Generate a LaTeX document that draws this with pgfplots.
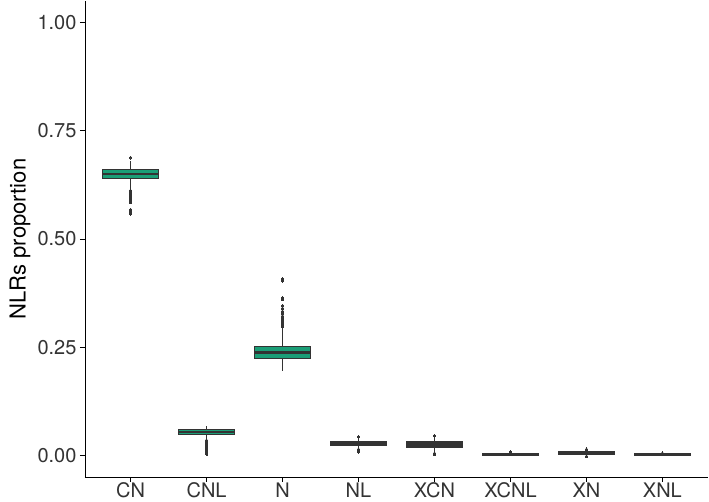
\documentclass[border=0pt]{standalone}
\usepackage{pgfplots}
\pgfplotsset{compat=1.18}
\usepgfplotslibrary{statistics}
\usepackage{fontspec}
\setmainfont{TeX Gyre Heros}

\definecolor{boxfill}{HTML}{1B9E77}
\definecolor{edge}{HTML}{333333}

\pgfplotsset{
  boxplot/draw direction=y,
  boxplot/every box/.style={draw=edge, fill=boxfill, line width=1.3pt},
  boxplot/every median/.style={draw=edge, line width=2.8pt},
  boxplot/every whisker/.style={draw=edge, line width=1.2pt},
  nlr/.style={draw=edge, line width=1.2pt, mark=*, mark size=1.4pt, mark options={draw=edge, fill=edge, line width=0pt}},
}

\begin{document}
\begin{tikzpicture}
\begin{axis}[
    scale only axis,
    width=623pt, height=476pt,
    xmin=0.4, xmax=8.6,
    ymin=-0.05, ymax=1.05,
    axis x line*=bottom, axis y line*=left,
    axis line style={-, line width=0.8pt, black},
    xtick={1,...,8},
    xticklabels={CN,CNL,N,NL,XCN,XCNL,XN,XNL},
    ytick={0,0.25,0.5,0.75,1},
    yticklabel style={/pgf/number format/.cd, fixed, fixed zerofill, precision=2},
    /pgf/number format/assume math mode=true,
    tick align=outside,
    major tick length=5pt,
    tick style={line width=0.8pt, black},
    ticklabel style={font=\fontsize{20}{24}\selectfont, text=black!80},
    xticklabel style={yshift=2.5pt},
    ylabel={NLRs proportion},
    ylabel style={font=\fontsize{22}{26}\selectfont, at={(axis description cs:-0.1043,0.5)}, anchor=center},
    clip=false,
]
% CN
\addplot[nlr, boxplot prepared={draw position=1, box extend=0.74, whisker extend=0,
    median=0.650, lower quartile=0.640, upper quartile=0.660,
    lower whisker=0.615, upper whisker=0.680}]
  coordinates {(0,0.688)(0,0.612)(0,0.610)(0,0.608)(0,0.606)(0,0.604)(0,0.602)(0,0.600)
    (0,0.598)(0,0.596)(0,0.594)(0,0.592)(0,0.590)(0,0.587)(0,0.585)(0,0.568)(0,0.563)(0,0.558)};
% CNL
\addplot[nlr, boxplot prepared={draw position=2, box extend=0.74, whisker extend=0,
    median=0.054, lower quartile=0.048, upper quartile=0.060,
    lower whisker=0.038, upper whisker=0.069}]
  coordinates {(0,0.035)(0,0.031)(0,0.028)(0,0.025)(0,0.022)(0,0.018)(0,0.014)(0,0.010)(0,0.006)(0,0.003)};
% N
\addplot[nlr, boxplot prepared={draw position=3, box extend=0.74, whisker extend=0,
    median=0.237, lower quartile=0.224, upper quartile=0.252,
    lower whisker=0.195, upper whisker=0.294}]
  coordinates {(0,0.297)(0,0.300)(0,0.303)(0,0.306)(0,0.309)(0,0.312)(0,0.315)(0,0.318)(0,0.322)
    (0,0.327)(0,0.333)(0,0.340)(0,0.346)(0,0.360)(0,0.364)(0,0.403)(0,0.408)};
% NL
\addplot[nlr, boxplot prepared={draw position=4, box extend=0.74, whisker extend=0,
    median=0.028, lower quartile=0.024, upper quartile=0.031,
    lower whisker=0.018, upper whisker=0.038}]
  coordinates {(0,0.043)(0,0.014)(0,0.011)(0,0.008)};
% XCN
\addplot[nlr, boxplot prepared={draw position=5, box extend=0.74, whisker extend=0,
    median=0.025, lower quartile=0.019, upper quartile=0.031,
    lower whisker=0.008, upper whisker=0.040}]
  coordinates {(0,0.045)(0,0.005)(0,0.002)};
% XCNL
\addplot[nlr, boxplot prepared={draw position=6, box extend=0.74, whisker extend=0,
    median=0.002, lower quartile=0.000, upper quartile=0.004,
    lower whisker=0.000, upper whisker=0.006}]
  coordinates {(0,0.008)};
% XN
\addplot[nlr, boxplot prepared={draw position=7, box extend=0.74, whisker extend=0,
    median=0.005, lower quartile=0.002, upper quartile=0.008,
    lower whisker=0.000, upper whisker=0.012}]
  coordinates {(0,0.014)(0,-0.002)};
% XNL
\addplot[nlr, boxplot prepared={draw position=8, box extend=0.74, whisker extend=0,
    median=0.001, lower quartile=0.000, upper quartile=0.003,
    lower whisker=0.000, upper whisker=0.004}]
  coordinates {(0,0.005)};
\end{axis}
\pgfresetboundingbox
\useasboundingbox (-85pt,-25pt) rectangle (624pt,477pt);
\end{tikzpicture}
\end{document}
